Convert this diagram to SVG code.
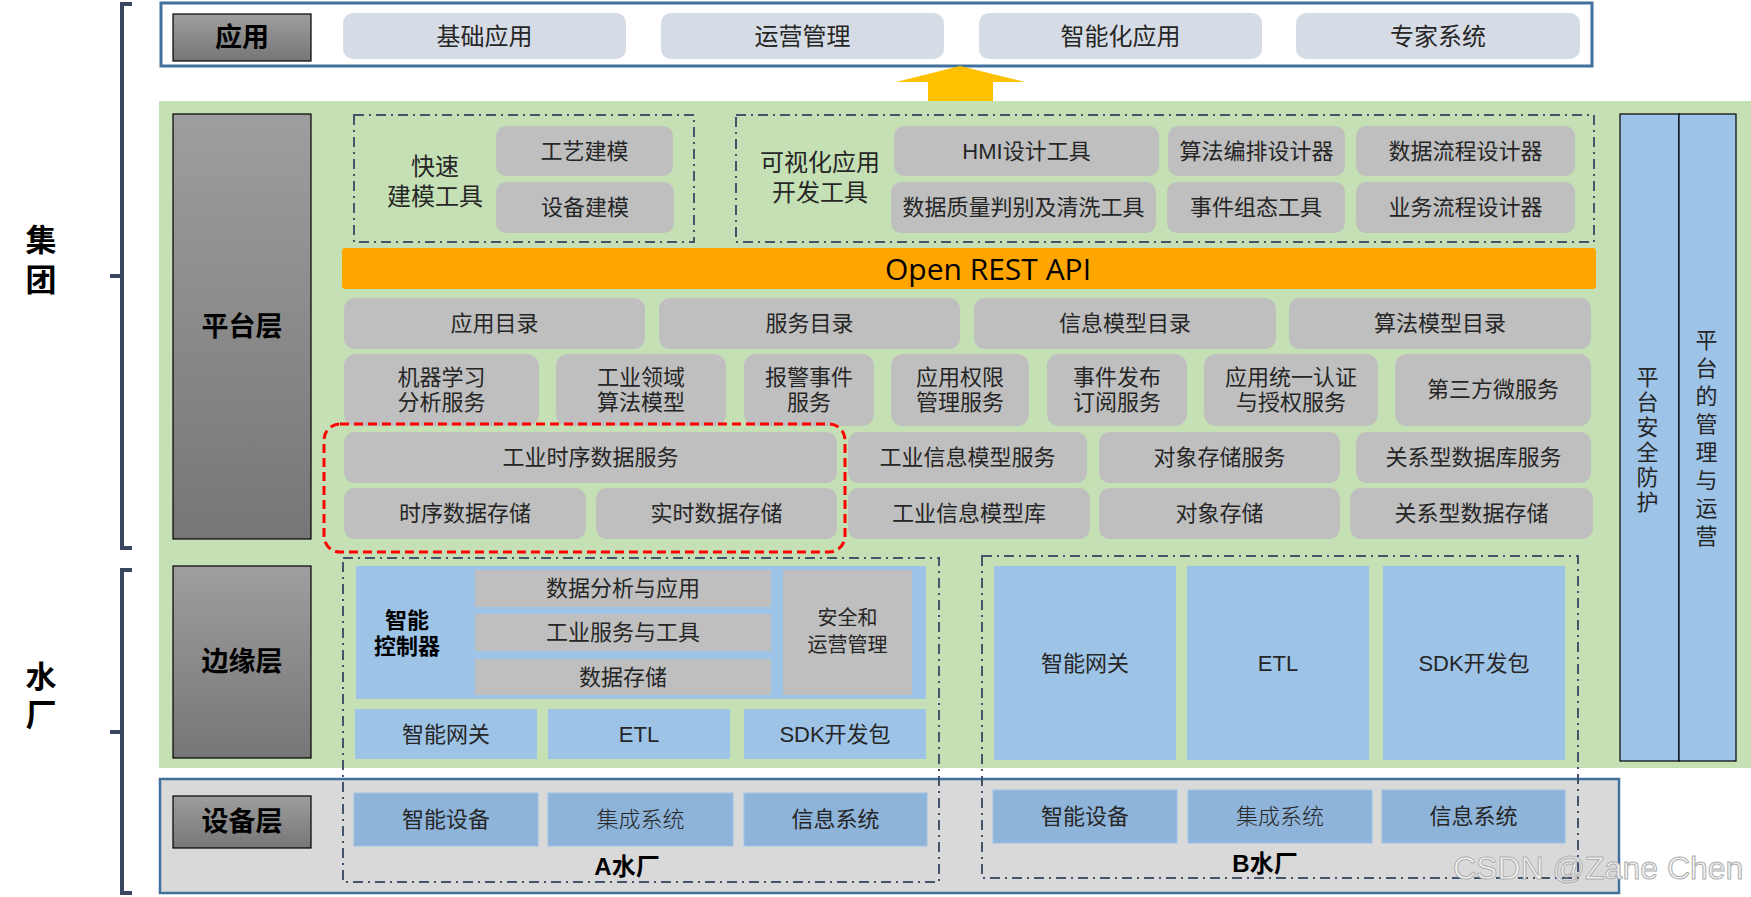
<svg xmlns="http://www.w3.org/2000/svg" width="1751" height="897" viewBox="0 0 1751 897">
<defs>
<linearGradient id="lblg" x1="0" y1="0" x2="0" y2="1">
<stop offset="0" stop-color="#9e9e9e"/>
<stop offset="1" stop-color="#767676"/>
</linearGradient>
<style>
text{font-family:"Liberation Sans","Noto Sans CJK SC",sans-serif;fill:#262626;text-anchor:middle;dominant-baseline:central}
.lbl{fill:url(#lblg);stroke:#000;stroke-width:1.2}
.lt{font-size:27px;font-weight:bold;fill:#000}
.app{fill:#D6DCE5}
.appt{font-size:24px}
.g{fill:#BFBFBF}
.t{font-size:22px}
.blue{fill:#9DC3E6}
.dev{fill:#8EB4DA;stroke:#9DC3E6;stroke-width:1}
.dd{fill:none;stroke:#44546A;stroke-width:2;stroke-dasharray:10 5 2 5}
.br{fill:none;stroke:#3B4660;stroke-width:4}
.side{fill:#9DC3E6;stroke:#000;stroke-width:1.2}
.big{font-size:31px;font-weight:bold;fill:#000}
.vt{font-size:22px;writing-mode:vertical-rl}
.hd{font-size:24px}
.bt{font-weight:bold;fill:#000}
</style>
</defs>
<rect width="1751" height="897" fill="#fff"/>

<!-- brackets -->
<g id="brackets">
<path class="br" d="M132,4 H122 V548 H132 M122,276 H110"/>
<path class="br" d="M132,570 H122 V893 H132 M122,732 H110"/>
<text class="big" x="41" y="260"><tspan x="41" dy="-20">集</tspan><tspan x="41" dy="40">团</tspan></text>
<text class="big" x="41" y="696"><tspan x="41" dy="-19">水</tspan><tspan x="41" dy="38">厂</tspan></text>
</g>

<!-- application layer -->
<g id="app-layer">
<rect x="161" y="3" width="1431" height="63" fill="#fff" stroke="#41719C" stroke-width="3"/>
<rect class="lbl" x="173" y="14" width="138" height="47"/>
<text class="lt" x="242" y="37.5">应用</text>
<rect class="app" x="343" y="13" width="283" height="46" rx="10"/>
<text class="appt" x="484.5" y="36">基础应用</text>
<rect class="app" x="661" y="13" width="283" height="46" rx="10"/>
<text class="appt" x="802.5" y="36">运营管理</text>
<rect class="app" x="979" y="13" width="283" height="46" rx="10"/>
<text class="appt" x="1120.5" y="36">智能化应用</text>
<rect class="app" x="1296" y="13" width="284" height="46" rx="10"/>
<text class="appt" x="1438" y="36">专家系统</text>
</g>

<!-- arrow -->
<g id="up-arrow">
<polygon points="960,66 1025,82 993,82 993,101 928,101 928,82 896,82" fill="#FFC000"/>
</g>

<!-- green platform + edge background -->
<rect x="159" y="101" width="1592" height="667" fill="#C5E0B4"/>

<!-- platform layer -->
<g id="platform-layer">
<rect class="lbl" x="173" y="114" width="138" height="425"/>
<text class="lt" x="242" y="327">平台层</text>
</g>

<g id="fast-modeling">
<rect class="dd" x="354" y="115" width="340" height="127"/>
<text class="hd" x="435" y="181"><tspan x="435" dy="-15">快速</tspan><tspan x="435" dy="30">建模工具</tspan></text>
<rect class="g" x="496" y="126" width="177" height="50" rx="10"/>
<text class="t" x="584.5" y="151">工艺建模</text>
<rect class="g" x="496" y="182" width="178" height="51" rx="10"/>
<text class="t" x="585" y="207.5">设备建模</text>
</g>

<g id="visual-tools">
<rect class="dd" x="736" y="115" width="858" height="127"/>
<text class="hd" x="820" y="177"><tspan x="820" dy="-15">可视化应用</tspan><tspan x="820" dy="30">开发工具</tspan></text>
<rect class="g" x="894" y="126" width="265" height="50" rx="10"/>
<text class="t" x="1026.5" y="151">HMI设计工具</text>
<rect class="g" x="891" y="182" width="265" height="51" rx="10"/>
<text class="t" x="1023.5" y="207.5">数据质量判别及清洗工具</text>
<rect class="g" x="1168" y="126" width="177" height="50" rx="10"/>
<text class="t" x="1256.5" y="151">算法编排设计器</text>
<rect class="g" x="1167" y="182" width="178" height="51" rx="10"/>
<text class="t" x="1256" y="207.5">事件组态工具</text>
<rect class="g" x="1356" y="126" width="219" height="50" rx="10"/>
<text class="t" x="1465.5" y="151">数据流程设计器</text>
<rect class="g" x="1356" y="182" width="219" height="51" rx="10"/>
<text class="t" x="1465.5" y="207.5">业务流程设计器</text>
</g>

<g id="open-rest-api">
<rect x="342" y="248" width="1254" height="41" rx="3" fill="#FFA500"/>
<text x="988" y="268.5" style="font-family:'Open Sans','Noto Sans',sans-serif;font-size:30px;fill:#000">Open REST API</text>
</g>

<g id="catalog-row">
<rect class="g" x="344" y="298" width="301" height="51" rx="11"/>
<text class="t" x="494.5" y="323.5">应用目录</text>
<rect class="g" x="659" y="298" width="301" height="51" rx="11"/>
<text class="t" x="809.5" y="323.5">服务目录</text>
<rect class="g" x="974" y="298" width="302" height="51" rx="11"/>
<text class="t" x="1125" y="323.5">信息模型目录</text>
<rect class="g" x="1289" y="298" width="302" height="51" rx="11"/>
<text class="t" x="1440" y="323.5">算法模型目录</text>
</g>

<g id="service-row">
<rect class="g" x="344" y="354" width="195" height="72" rx="12"/>
<text class="t" x="441.5" y="389.5"><tspan x="441.5" dy="-12.8">机器学习</tspan><tspan x="441.5" dy="25.6">分析服务</tspan></text>
<rect class="g" x="556" y="354" width="170" height="72" rx="12"/>
<text class="t" x="641" y="389.5"><tspan x="641" dy="-12.8">工业领域</tspan><tspan x="641" dy="25.6">算法模型</tspan></text>
<rect class="g" x="744" y="354" width="130" height="72" rx="12"/>
<text class="t" x="809" y="389.5"><tspan x="809" dy="-12.8">报警事件</tspan><tspan x="809" dy="25.6">服务</tspan></text>
<rect class="g" x="891" y="354" width="138" height="72" rx="12"/>
<text class="t" x="960" y="389.5"><tspan x="960" dy="-12.8">应用权限</tspan><tspan x="960" dy="25.6">管理服务</tspan></text>
<rect class="g" x="1047" y="354" width="140" height="72" rx="12"/>
<text class="t" x="1117" y="389.5"><tspan x="1117" dy="-12.8">事件发布</tspan><tspan x="1117" dy="25.6">订阅服务</tspan></text>
<rect class="g" x="1204" y="354" width="174" height="72" rx="12"/>
<text class="t" x="1291" y="389.5"><tspan x="1291" dy="-12.8">应用统一认证</tspan><tspan x="1291" dy="25.6">与授权服务</tspan></text>
<rect class="g" x="1395" y="354" width="196" height="72" rx="12"/>
<text class="t" x="1493" y="389.5">第三方微服务</text>
</g>

<g id="data-rows">
<rect class="g" x="344" y="432" width="493" height="51" rx="11"/>
<text class="t" x="590.5" y="457.5">工业时序数据服务</text>
<rect class="g" x="848" y="432" width="239" height="51" rx="11"/>
<text class="t" x="967.5" y="457.5">工业信息模型服务</text>
<rect class="g" x="1099" y="432" width="241" height="51" rx="11"/>
<text class="t" x="1219.5" y="457.5">对象存储服务</text>
<rect class="g" x="1356" y="432" width="235" height="51" rx="11"/>
<text class="t" x="1473.5" y="457.5">关系型数据库服务</text>
<rect class="g" x="344" y="488" width="242" height="51" rx="11"/>
<text class="t" x="465" y="513.5">时序数据存储</text>
<rect class="g" x="596" y="488" width="241" height="51" rx="11"/>
<text class="t" x="716.5" y="513.5">实时数据存储</text>
<rect class="g" x="848" y="488" width="242" height="51" rx="11"/>
<text class="t" x="969" y="513.5">工业信息模型库</text>
<rect class="g" x="1099" y="488" width="241" height="51" rx="11"/>
<text class="t" x="1219.5" y="513.5">对象存储</text>
<rect class="g" x="1350" y="488" width="243" height="51" rx="11"/>
<text class="t" x="1471.5" y="513.5">关系型数据存储</text>
</g>

<g id="highlight">
<rect x="324" y="424" width="521" height="128" rx="16" fill="none" stroke="#FF0000" stroke-width="3" stroke-dasharray="9 5"/>
</g>

<g id="side-columns">
<rect class="side" x="1620" y="114" width="59" height="647"/>
<rect class="side" x="1679" y="114" width="57" height="647"/>
<text class="vt" x="1645" y="441" style="letter-spacing:3px">平台安全防护</text>
<text class="vt" x="1704" y="441" style="letter-spacing:6px">平台的管理与运营</text>
</g>

<!-- edge layer -->
<g id="edge-layer">
<rect class="lbl" x="173" y="566" width="138" height="192"/>
<text class="lt" x="242" y="662">边缘层</text>
</g>

<g id="plant-a-edge">
<rect class="blue" x="356" y="566" width="570" height="133"/>
<text class="bt" x="407" y="633" font-size="22"><tspan x="407" dy="-13">智能</tspan><tspan x="407" dy="26">控制器</tspan></text>
<rect class="g" x="475" y="570" width="296" height="37"/>
<text class="t" x="623" y="588.5">数据分析与应用</text>
<rect class="g" x="475" y="614" width="296" height="37"/>
<text class="t" x="623" y="632.5">工业服务与工具</text>
<rect class="g" x="475" y="659" width="296" height="36"/>
<text class="t" x="623" y="677">数据存储</text>
<rect class="g" x="783" y="570" width="129" height="125"/>
<text x="847.5" y="631.5" font-size="20"><tspan x="847.5" dy="-13.5">安全和</tspan><tspan x="847.5" dy="27">运营管理</tspan></text>
<rect class="blue" x="355" y="709" width="182" height="50"/>
<text class="t" x="446" y="734">智能网关</text>
<rect class="blue" x="548" y="709" width="182" height="50"/>
<text class="t" x="639" y="734">ETL</text>
<rect class="blue" x="744" y="709" width="182" height="50"/>
<text class="t" x="835" y="734">SDK开发包</text>
</g>

<g id="plant-b-edge">
<rect class="blue" x="994" y="566" width="182" height="194"/>
<text class="t" x="1085" y="663">智能网关</text>
<rect class="blue" x="1187" y="566" width="182" height="194"/>
<text class="t" x="1278" y="663">ETL</text>
<rect class="blue" x="1383" y="566" width="182" height="194"/>
<text class="t" x="1474" y="663">SDK开发包</text>
</g>

<!-- device layer -->
<g id="device-layer">
<rect x="160" y="779" width="1459" height="114" fill="#D9D9D9" stroke="#41719C" stroke-width="2.5"/>
<rect class="lbl" x="173" y="796" width="138" height="52"/>
<text class="lt" x="242" y="822">设备层</text>
</g>

<g id="plant-a-devices">
<rect class="dev" x="354" y="793" width="184" height="53"/>
<text class="t" x="446" y="819.5">智能设备</text>
<rect class="dev" x="548" y="793" width="185" height="53"/>
<text class="t" x="640.5" y="819.5" font-weight="300">集成系统</text>
<rect class="dev" x="744" y="793" width="183" height="53"/>
<text class="t" x="835.5" y="819.5">信息系统</text>
<text class="bt" x="627" y="866" font-size="24">A水厂</text>
</g>

<g id="plant-b-devices">
<rect class="dev" x="993" y="790" width="184" height="53"/>
<text class="t" x="1085" y="816.5">智能设备</text>
<rect class="dev" x="1188" y="790" width="184" height="53"/>
<text class="t" x="1280" y="816.5" font-weight="300">集成系统</text>
<rect class="dev" x="1382" y="790" width="183" height="53"/>
<text class="t" x="1473.5" y="816.5">信息系统</text>
<text class="bt" x="1265" y="863" font-size="24">B水厂</text>
</g>

<!-- plant dashed outlines -->
<g id="connectors">
<rect class="dd" x="343" y="558" width="596" height="324"/>
<rect class="dd" x="982" y="556" width="596" height="322"/>
</g>

<text x="1453" y="879" style="font-family:'Liberation Sans',Arial,sans-serif;font-size:32px;text-anchor:start;dominant-baseline:auto;fill:#f4f4f4;stroke:#b0b0b0;stroke-width:1">CSDN @Zane Chen</text>
</svg>
